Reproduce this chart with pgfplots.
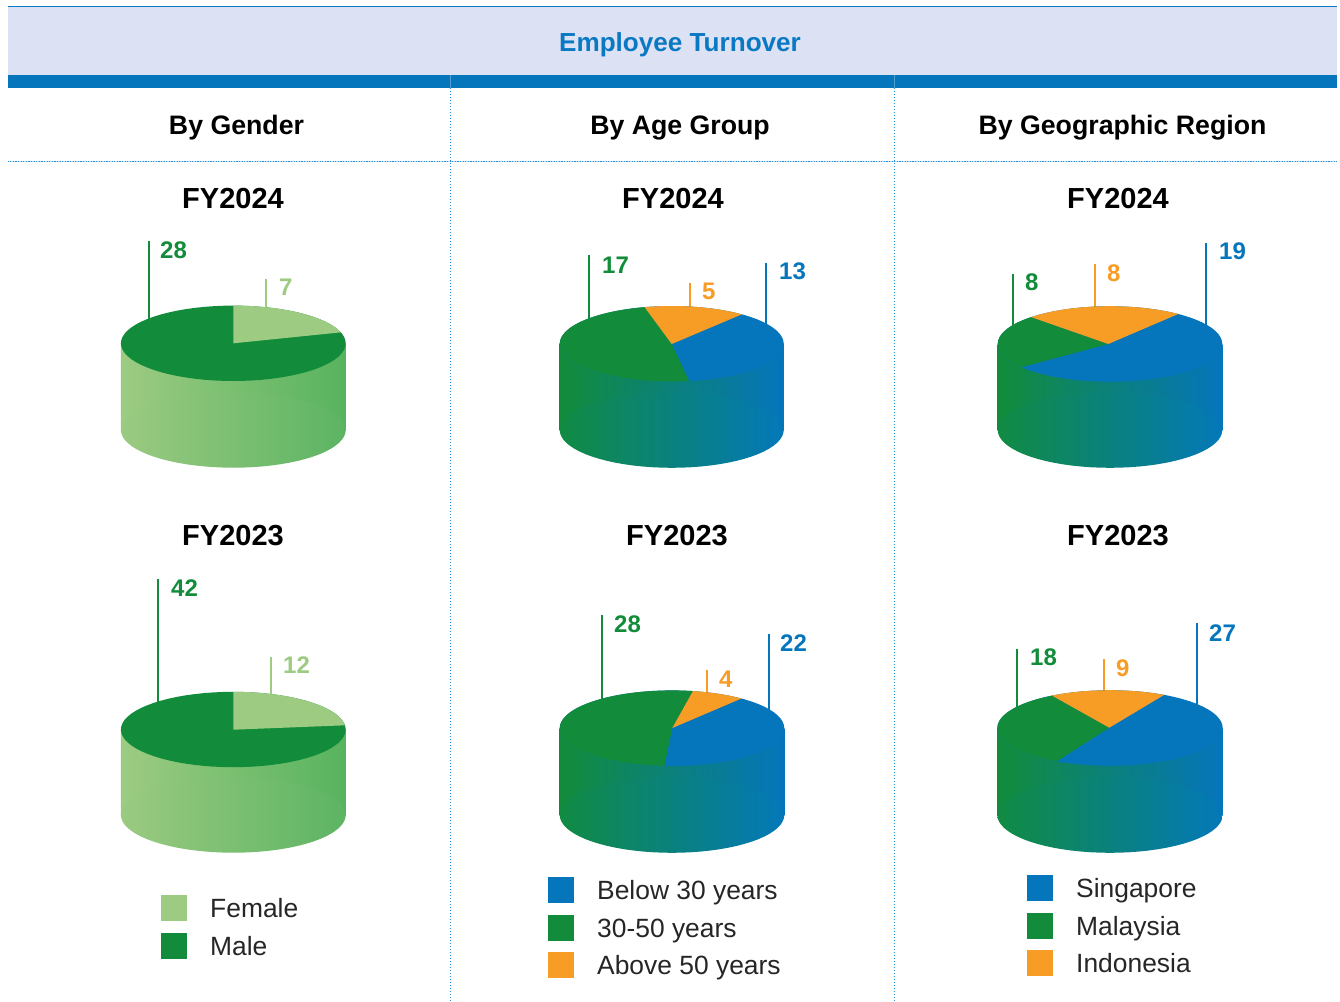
\documentclass[border=0pt]{standalone}
\usepackage{pgfplots}
\usepackage{pgfplotstable}
\usepackage{fontspec}
\setmainfont{Liberation Sans}
\pgfplotsset{compat=1.18}
\definecolor{cgreen}{HTML}{128C3A}
\definecolor{clight}{HTML}{9DCB82}
\definecolor{cblue}{HTML}{0575BC}
\definecolor{corange}{HTML}{F79C25}
\definecolor{ctitle}{HTML}{0A78C2}
\definecolor{cband}{HTML}{DCE1F3}
\definecolor{cdot}{HTML}{2A8FD3}
\pgfplotstableread{
c s
1.00000 0.00000
0.99619 0.08716
0.98481 0.17365
0.96593 0.25882
0.93969 0.34202
0.90631 0.42262
0.86603 0.50000
0.81915 0.57358
0.76604 0.64279
0.70711 0.70711
0.64279 0.76604
0.57358 0.81915
0.50000 0.86603
0.42262 0.90631
0.34202 0.93969
0.25882 0.96593
0.17365 0.98481
0.08716 0.99619
0.00000 1.00000
-0.08716 0.99619
-0.17365 0.98481
-0.25882 0.96593
-0.34202 0.93969
-0.42262 0.90631
-0.50000 0.86603
-0.57358 0.81915
-0.64279 0.76604
-0.70711 0.70711
-0.76604 0.64279
-0.81915 0.57358
-0.86603 0.50000
-0.90631 0.42262
-0.93969 0.34202
-0.96593 0.25882
-0.98481 0.17365
-0.99619 0.08716
-1.00000 0.00000
-0.99619 -0.08716
-0.98481 -0.17365
-0.96593 -0.25882
-0.93969 -0.34202
-0.90631 -0.42262
-0.86603 -0.50000
-0.81915 -0.57358
-0.76604 -0.64279
-0.70711 -0.70711
-0.64279 -0.76604
-0.57358 -0.81915
-0.50000 -0.86603
-0.42262 -0.90631
-0.34202 -0.93969
-0.25882 -0.96593
-0.17365 -0.98481
-0.08716 -0.99619
0.00000 -1.00000
0.08716 -0.99619
0.17365 -0.98481
0.25882 -0.96593
0.34202 -0.93969
0.42262 -0.90631
0.50000 -0.86603
0.57358 -0.81915
0.64279 -0.76604
0.70711 -0.70711
0.76604 -0.64279
0.81915 -0.57358
0.86603 -0.50000
0.90631 -0.42262
0.93969 -0.34202
0.96593 -0.25882
0.98481 -0.17365
0.99619 -0.08716
}\unitcircle
\newcommand{\ellplot}[5]{\addplot[draw=none,forget plot,#5] table[x expr={#1+#3*\thisrow{c}},y expr={#2+#4*\thisrow{s}}] {\unitcircle};}
\newcommand{\rectplot}[5]{\addplot[draw=none,forget plot,#5] coordinates {(#1,#2)(#3,#2)(#3,#4)(#1,#4)};}
\newcommand{\leader}[4]{\addplot[#4,line width=2.3pt,forget plot] coordinates {(#1,#2)(#1,#3)};}
\newcommand{\val}[4]{\node[anchor=base west,inner sep=0pt,text=#4,font=\fontsize{24}{28}\selectfont\bfseries] at (axis cs:#1,#2) {#3};}
\newcommand{\boldc}[4]{\node[anchor=base,inner sep=0pt,font=\fontsize{#3}{#3}\selectfont\bfseries] at (axis cs:#1,#2) {#4};}
\newcommand{\legtext}[3]{\node[anchor=base west,inner sep=0pt,text=black!85,font=\fontsize{26.4}{30}\selectfont] at (axis cs:#1,#2) {#3};}
\definecolor{HTML57B35F}{HTML}{57B35F}
\definecolor{HTML62B666}{HTML}{5CB463}
\definecolor{l1}{HTML}{9BCA81}
\definecolor{t1}{HTML}{098774}
\definecolor{t2}{HTML}{07877F}
\definecolor{g2}{HTML}{118B42}
\definecolor{b2}{HTML}{0378B9}
\begin{document}
\begin{tikzpicture}
\begin{axis}[
  scale only axis,width=1340pt,height=1001pt,
  xmin=0,xmax=1340,ymin=0,ymax=1001,y dir=reverse,
  hide axis,clip=true,
]
\rectplot{0}{0}{1340}{1001}{fill=white}
% header
\rectplot{7.5}{6.5}{1337}{75}{fill=cband}
\rectplot{7.5}{75}{1337}{88}{fill=cblue}
\addplot[ctitle,line width=1.3pt,forget plot] coordinates {(7.5,6.5)(1337,6.5)};
\addplot[cdot!35!white,line width=0.9pt,forget plot] coordinates {(7.5,161)(1337,161)};
\addplot[cdot,line width=0.9pt,dash pattern=on 1.2pt off 1.4pt,forget plot] coordinates {(7.5,161)(1337,161)};
\addplot[cdot,line width=0.9pt,dash pattern=on 1.3pt off 1.7pt,forget plot] coordinates {(450.7,88)(450.7,1001)};
\addplot[cdot,line width=0.9pt,dash pattern=on 1.3pt off 1.7pt,forget plot] coordinates {(894,88)(894,1001)};
\addplot[cblue!70!white,line width=0.6pt,forget plot] coordinates {(450.7,75)(450.7,88)};
\addplot[cblue!70!white,line width=0.6pt,forget plot] coordinates {(894,75)(894,88)};
% --- pie 1 Gender FY2024
\leader{148.7}{241}{325}{cgreen}
\leader{266.3}{279}{315}{clight}
\rectplot{120.9}{343.3}{345.7}{430}{left color=clight,right color=HTML57B35F}
\ellplot{233.3}{430}{112.4}{37.7}{left color=l1,right color=HTML62B666}
\ellplot{233.3}{343.3}{112.4}{37.7}{fill=cgreen}
\begin{scope}
\clip (axis cs:233.3,343.3) ellipse [x radius=112.4pt,y radius=37.7pt];
\addplot[fill=clight,draw=none,forget plot] coordinates {(233.3,343.3)(233.3,290)(360,290)(360,330.4)};
\end{scope}
% --- pie 4 Gender FY2023
\leader{158.3}{579.3}{710}{cgreen}
\leader{271}{657.3}{700}{clight}
\rectplot{120.9}{729.5}{345.7}{815}{left color=clight,right color=HTML57B35F}
\ellplot{233.3}{815}{112.4}{37.7}{left color=l1,right color=HTML62B666}
\ellplot{233.3}{729.5}{112.4}{37.7}{fill=cgreen}
\begin{scope}
\clip (axis cs:233.3,729.5) ellipse [x radius=112.4pt,y radius=37.7pt];
\addplot[fill=clight,draw=none,forget plot] coordinates {(233.3,729.7)(233.3,680)(360,680)(360,724.7)};
\end{scope}
% --- pie 2 Age FY2024
\leader{589.3}{254.7}{325}{cgreen}
\leader{690}{283.3}{315}{corange}
\leader{766}{262.7}{330}{cblue}
\rectplot{559.7}{343.8}{783.7}{430}{left color=cgreen,middle color=t1,right color=cblue}
\ellplot{671.7}{430}{112}{37.8}{left color=g2,middle color=t2,right color=b2}
\ellplot{671.7}{343.8}{112}{37.8}{fill=cblue}
\begin{scope}
\clip (axis cs:671.7,343.8) ellipse [x radius=112pt,y radius=37.8pt];
\addplot[fill=cgreen,draw=none,forget plot] coordinates {(671.7,344)(689.5,381.7)(706.3,418.6)(540,420)(540,271.4)(618.3,271.4)};
\addplot[fill=corange,draw=none,forget plot] coordinates {(671.7,344)(618.3,271.4)(810.3,285.4)};
\end{scope}
% --- pie 5 Age FY2023
\leader{602.3}{614.7}{705}{cgreen}
\leader{707.3}{670}{700}{corange}
\leader{769}{634}{715}{cblue}
\rectplot{559.7}{728.2}{784.3}{815}{left color=cgreen,middle color=t1,right color=cblue}
\ellplot{672}{815}{112.3}{37.8}{left color=g2,middle color=t2,right color=b2}
\ellplot{672}{728.2}{112.3}{37.8}{fill=cblue}
\begin{scope}
\clip (axis cs:672,728.2) ellipse [x radius=112.3pt,y radius=37.8pt];
\addplot[fill=cgreen,draw=none,forget plot] coordinates {(672.3,728)(656.3,804)(540,804)(540,654)(713.7,654)};
\addplot[fill=corange,draw=none,forget plot] coordinates {(672.3,728)(713.7,654)(809.7,669.4)};
\end{scope}
% --- pie 3 Region FY2024
\leader{1013.3}{274}{325}{cgreen}
\leader{1094.7}{264}{315}{corange}
\leader{1206.3}{242.7}{330}{cblue}
\rectplot{997.7}{344}{1222.3}{430}{left color=cgreen,middle color=t1,right color=cblue}
\ellplot{1110}{430}{112.3}{37.8}{left color=g2,middle color=t2,right color=b2}
\ellplot{1110}{344}{112.3}{37.8}{fill=cblue}
\begin{scope}
\clip (axis cs:1110,344) ellipse [x radius=112.3pt,y radius=37.8pt];
\addplot[fill=cgreen,draw=none,forget plot] coordinates {(1108.3,344)(936.3,390)(930,290.6)(955.1,290.6)};
\addplot[fill=corange,draw=none,forget plot] coordinates {(1108.3,344)(955.1,290.6)(1248.3,284)};
\end{scope}
% --- pie 6 Region FY2023
\leader{1017}{649}{712}{cgreen}
\leader{1104.3}{659}{698}{corange}
\leader{1196.7}{622.7}{712}{cblue}
\rectplot{997.3}{728}{1222.7}{815}{left color=cgreen,middle color=t1,right color=cblue}
\ellplot{1110}{815}{112.7}{37.8}{left color=g2,middle color=t2,right color=b2}
\ellplot{1110}{728}{112.7}{37.8}{fill=cblue}
\begin{scope}
\clip (axis cs:1110,728) ellipse [x radius=112.7pt,y radius=37.8pt];
\addplot[fill=cgreen,draw=none,forget plot] coordinates {(1109.3,727.7)(1005.3,794.3)(980,794.3)(980,664.3)(996.1,664.3)};
\addplot[fill=corange,draw=none,forget plot] coordinates {(1109.3,727.7)(996.1,664.3)(1218.7,662.3)};
\end{scope}
% legends
\rectplot{161}{895}{187}{921}{fill=clight}
\rectplot{161}{933}{187}{959}{fill=cgreen}
\rectplot{548}{877}{574}{903}{fill=cblue}
\rectplot{548}{915}{574}{941}{fill=cgreen}
\rectplot{548}{952}{574}{978}{fill=corange}
\rectplot{1027}{875}{1053}{901}{fill=cblue}
\rectplot{1027}{913}{1053}{939}{fill=cgreen}
\rectplot{1027}{950}{1053}{976}{fill=corange}
\legtext{210}{917}{Female}
\legtext{210}{955}{Male}
\legtext{597}{899}{Below 30 years}
\legtext{597}{937}{30-50 years}
\legtext{597}{974}{Above 50 years}
\legtext{1076}{897}{Singapore}
\legtext{1076}{935}{Malaysia}
\legtext{1076}{972}{Indonesia}
% titles
\node[anchor=base,inner sep=0pt,text=ctitle,font=\fontsize{26.1}{30}\selectfont\bfseries] at (axis cs:680,51.5) {Employee Turnover};
\boldc{236.5}{134}{26.7}{By Gender}
\boldc{680}{134}{26.7}{By Age Group}
\boldc{1122.5}{134}{26.7}{By Geographic Region}
\boldc{233}{208.5}{29}{FY2024}
\boldc{673}{208.5}{29}{FY2024}
\boldc{1118}{208.5}{29}{FY2024}
\boldc{233}{545.5}{29}{FY2023}
\boldc{677}{545.5}{29}{FY2023}
\boldc{1118}{545.5}{29}{FY2023}
% values
\val{160}{258.5}{28}{cgreen}
\val{279}{295.5}{7}{clight}
\val{171}{596.5}{42}{cgreen}
\val{283}{673.5}{12}{clight}
\val{602}{273.5}{17}{cgreen}
\val{702}{299.5}{5}{corange}
\val{779}{279.5}{13}{cblue}
\val{614}{632.5}{28}{cgreen}
\val{719}{687.5}{4}{corange}
\val{780}{651.5}{22}{cblue}
\val{1025}{290.5}{8}{cgreen}
\val{1107}{281.5}{8}{corange}
\val{1219}{259.5}{19}{cblue}
\val{1030}{665.5}{18}{cgreen}
\val{1116}{676.5}{9}{corange}
\val{1209}{641.5}{27}{cblue}
\end{axis}
\end{tikzpicture}
\end{document}
